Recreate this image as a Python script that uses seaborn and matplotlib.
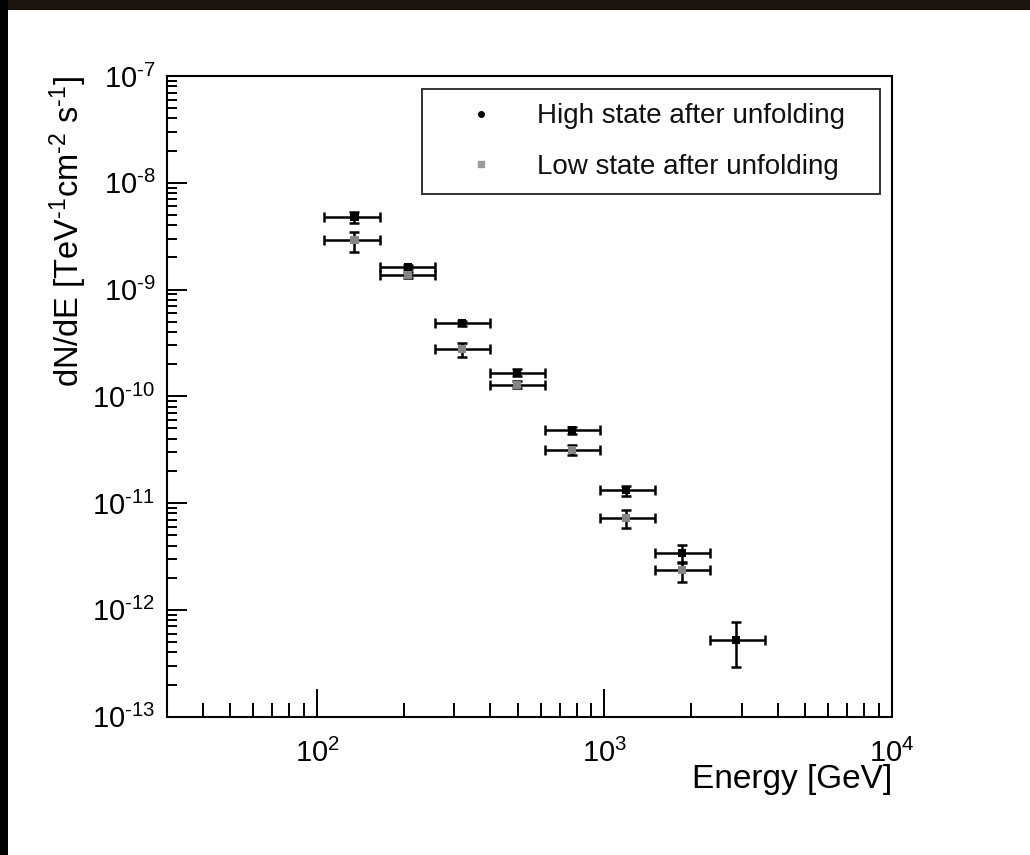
import numpy as np
import pandas as pd
import matplotlib
matplotlib.use("Agg")
import matplotlib.pyplot as plt
import seaborn as sns
from matplotlib.ticker import LogLocator, FuncFormatter, NullFormatter
from matplotlib.lines import Line2D
from matplotlib.patches import Rectangle

# ---- data ----
energy = [135, 208, 320, 497, 771, 1191, 1857, 2872]          # GeV, bin centres
bin_lo = [106, 166, 258, 401, 622, 966, 1500, 2330]           # GeV, bin lower edges
bin_hi = [166, 258, 401, 622, 966, 1500, 2330, 3614]          # GeV, bin upper edges

flux_high = [4.75e-9, 1.62e-9, 4.83e-10, 1.67e-10, 4.85e-11, 1.33e-11, 3.40e-12, 5.24e-13]
flux_high_lo = [4.18e-9, 1.55e-9, 4.60e-10, 1.55e-10, 4.42e-11, 1.17e-11, 2.83e-12, 2.94e-13]
flux_high_hi = [5.36e-9, 1.70e-9, 5.10e-10, 1.80e-10, 5.20e-11, 1.45e-11, 4.06e-12, 7.76e-13]

flux_low = [2.91e-9, 1.37e-9, 2.76e-10, 1.28e-10, 3.15e-11, 7.23e-12, 2.37e-12]
flux_low_lo = [2.26e-9, 1.28e-9, 2.35e-10, 1.19e-10, 2.82e-11, 5.82e-12, 1.84e-12]
flux_low_hi = [3.48e-9, 1.47e-9, 3.18e-10, 1.38e-10, 3.51e-11, 8.64e-12, 2.75e-12]

labels = ["High state after unfolding", "Low state after unfolding"]

# ---- style ----
sns.set_theme(style="ticks")
plt.rcParams['font.family'] = ['Liberation Sans', 'DejaVu Sans']
plt.rcParams['mathtext.fontset'] = 'custom'
plt.rcParams['mathtext.rm'] = 'Liberation Sans'
plt.rcParams['mathtext.it'] = 'Liberation Sans:italic'
plt.rcParams['mathtext.bf'] = 'Liberation Sans:bold'

fig = plt.figure(figsize=(10.30, 8.55), dpi=100)
fig.patch.set_facecolor('white')
ax = fig.add_axes([0.1618, 0.1618, 0.7042, 0.7493])

n_low = len(flux_low)
df = pd.DataFrame({
    "energy": energy + energy[:n_low],
    "flux": flux_high + flux_low,
    "state": [labels[0]] * len(energy) + [labels[1]] * n_low,
})

e = np.array(energy, float)
xerr = [e - np.array(bin_lo), np.array(bin_hi) - e]
fh = np.array(flux_high)
yerr_h = [fh - np.array(flux_high_lo), np.array(flux_high_hi) - fh]
fl = np.array(flux_low)
yerr_l = [fl - np.array(flux_low_lo), np.array(flux_low_hi) - fl]

eb = dict(fmt='none', ecolor='black', elinewidth=1.8, capsize=3.6, capthick=1.8, zorder=2)
ax.errorbar(e, fh, xerr=xerr, yerr=yerr_h, **eb)
ax.errorbar(e[:n_low], fl, xerr=[xerr[0][:n_low], xerr[1][:n_low]], yerr=yerr_l, **eb)

sns.scatterplot(data=df, x="energy", y="flux", hue="state", style="state",
                palette={labels[0]: "black", labels[1]: "#858585"},
                markers={labels[0]: "s", labels[1]: "s"},
                s=34, edgecolor='none', linewidth=0, legend=False, ax=ax, zorder=3)

ax.set_xscale('log')
ax.set_yscale('log')
ax.set_xlim(30, 1e4)
ax.set_ylim(1e-13, 1e-7)

def sci(v, pos):
    ex = int(round(np.log10(v)))
    if ex < 0:
        return r"$\mathregular{10^{\text{-}%d}}$" % (-ex)
    return r"$\mathregular{10^{%d}}$" % ex

ax.xaxis.set_major_locator(LogLocator(base=10, numticks=20))
ax.xaxis.set_minor_locator(LogLocator(base=10, subs=np.arange(2, 10), numticks=50))
ax.yaxis.set_major_locator(LogLocator(base=10, numticks=20))
ax.yaxis.set_minor_locator(LogLocator(base=10, subs=np.arange(2, 10), numticks=50))
ax.xaxis.set_major_formatter(FuncFormatter(sci))
ax.yaxis.set_major_formatter(FuncFormatter(sci))
ax.xaxis.set_minor_formatter(NullFormatter())
ax.yaxis.set_minor_formatter(NullFormatter())

ax.tick_params(axis='both', which='both', direction='in', top=False, right=False,
               color='black', width=1.4, labelcolor='black')
ax.tick_params(axis='x', which='major', length=20, pad=16, labelsize=21)
ax.tick_params(axis='x', which='minor', length=10)
ax.tick_params(axis='y', which='major', length=14.5, pad=8, labelsize=21)
ax.tick_params(axis='y', which='minor', length=7.5)

for sp in ax.spines.values():
    sp.set_visible(True)
    sp.set_color('black')
    sp.set_linewidth(1.5)

ax.set_xlabel("Energy [GeV]", fontsize=24, loc='right', labelpad=-3, color='black')
ax.set_ylabel(r"dN/dE [TeV$^{\text{-}1}$cm$^{\text{-}2}$ s$^{\text{-}1}$]", fontsize=23.5,
              loc='top', labelpad=2, color='black')

handles = [Line2D([], [], marker='o', color='black', ls='none', markersize=4),
           Line2D([], [], marker='s', color='#9a9a9a', ls='none', markersize=5)]
leg = ax.legend(handles, labels, loc='upper left', mode='expand',
                bbox_to_anchor=(0.352, 0.9797, 0.6314, 0.0),
                fontsize=20, frameon=True, fancybox=False, borderpad=0.52,
                handlelength=3.2, handletextpad=0.41, labelspacing=0.87,
                borderaxespad=0.0)
leg.get_frame().set_edgecolor('black')
leg.get_frame().set_linewidth(1.4)
for t in leg.get_texts():
    t.set_color('#111111')

# dark slide border visible at top and left of the screenshot
fig.patches.append(Rectangle((0, 1 - 10 / 855), 1, 10 / 855, transform=fig.transFigure,
                             facecolor='#1c140e', edgecolor='none', zorder=-1))
fig.patches.append(Rectangle((0, 0), 8 / 1030, 1, transform=fig.transFigure,
                             facecolor='#030303', edgecolor='none', zorder=-1))

fig.savefig("out.png", dpi=100, facecolor=fig.get_facecolor())
